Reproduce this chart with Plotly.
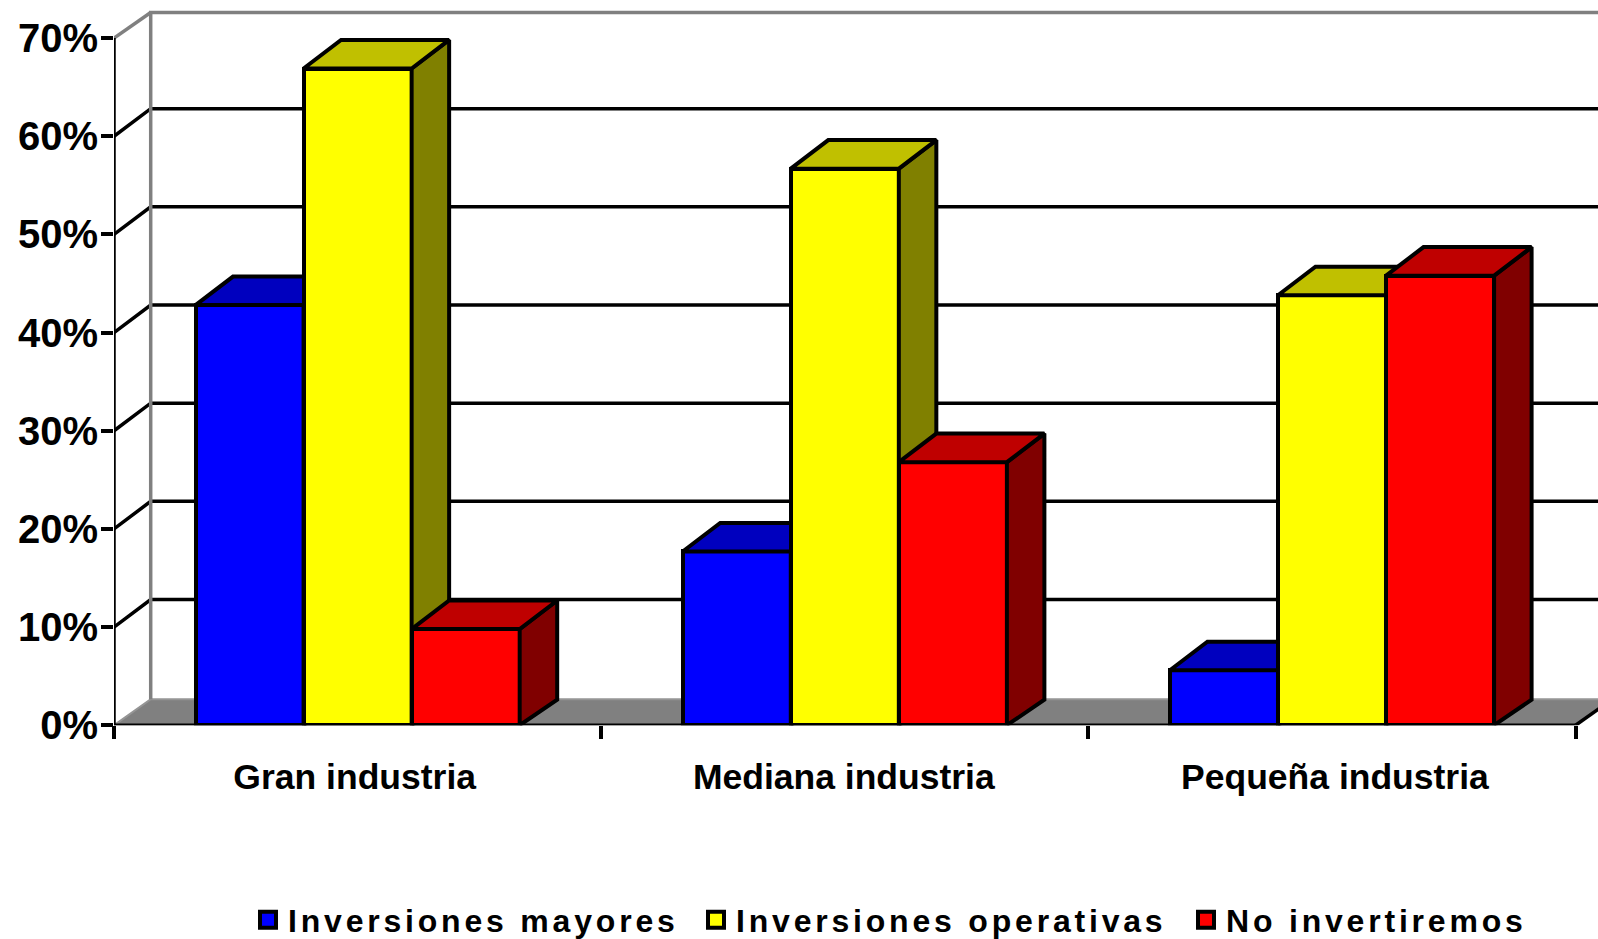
import plotly.graph_objects as go

categories = ["Gran industria", "Mediana industria", "Pequeña industria"]
series_names = ["Inversiones mayores", "Inversiones operativas", "No invertiremos"]
inversiones_mayores = [42.8, 17.7, 5.6]
inversiones_operativas = [66.9, 56.7, 43.8]
no_invertiremos = [9.8, 26.8, 45.8]
y_ticks = [0, 10, 20, 30, 40, 50, 60, 70]

values = [inversiones_mayores, inversiones_operativas, no_invertiremos]
front = ["#0000FF", "#FFFF00", "#FF0000"]
top = ["#0000BF", "#C0C000", "#BF0000"]
side = ["#000080", "#808000", "#800000"]

W, H = 1598, 939
L, AXIS_Y = 114, 724
PX_X, PX_Y = 487.2, 9.8
RESERVED_BOTTOM = 70   # room plotly keeps below the plot for the container-placed legends
XMAX = (W - L) / PX_X
YMAX = AXIS_Y / PX_Y
BAR_W = 0.2218
DX_BAR = 37.5 / PX_X
DY_TOP = 28.5 / PX_Y
DY_BASE = 25.5 / PX_Y
DX_WALL = 36.7 / PX_X
DY_FLOOR = 26 / PX_Y
DY_GRID = 27.5 / PX_Y
DY_ROOF = 25.5 / PX_Y
BLACK = "#000000"
GRAY = "#808080"
LW = 3.5
LW_BAR = 4

fig = go.Figure()

def add_line(xs, ys, color=BLACK, width=LW, **kw):
    fig.add_trace(go.Scatter(x=xs, y=ys, mode="lines", showlegend=False, hoverinfo="skip",
                             line=dict(color=color, width=width), cliponaxis=kw.pop("clip", True), **kw))

# floor
add_line([0, DX_WALL, 3 + DX_WALL, 3, 0], [0, DY_FLOOR, DY_FLOOR, 0, 0], color="#959595", width=2,
         fill="toself", fillcolor=GRAY)
# right edge of floor, then back-wall grid and its diagonals
add_line([3, 3 + DX_WALL], [0, DY_FLOOR], width=LW, clip=False)
grid_x, grid_y = [], []
for v in y_ticks[1:-1]:
    grid_x += [0, DX_WALL, XMAX, None]
    grid_y += [v, v + DY_GRID, v + DY_GRID, None]
add_line(grid_x, grid_y)
# gray walls
add_line([DX_WALL, DX_WALL, XMAX], [DY_FLOOR, y_ticks[-1] + DY_ROOF, y_ticks[-1] + DY_ROOF], color=GRAY)
add_line([0, DX_WALL], [y_ticks[-1], y_ticks[-1] + DY_ROOF], color=GRAY)
# axis lines
add_line([0, 0], [0, y_ticks[-1]], clip=False)
add_line([0, 3], [0, 0], clip=False)

# one overlaid subplot per series so that bars stack in the right depth order
for s in range(3):
    xa = f"x{s + 2}"
    ya = f"y{s + 2}"
    centers = [i + 0.5 + (s - 1) * BAR_W for i in range(3)]
    fig.add_trace(go.Bar(x=centers, y=values[s], width=BAR_W, xaxis=xa, yaxis=ya, name=series_names[s],
                         marker=dict(color=front[s], line=dict(color=BLACK, width=LW_BAR)),
                         showlegend=False, cliponaxis=False))
    for c, v in zip(centers, values[s]):
        x0, x1 = c - BAR_W / 2, c + BAR_W / 2
        fig.add_trace(go.Scatter(x=[x1, x1 + DX_BAR, x1 + DX_BAR, x1, x1], y=[0, DY_BASE, v + DY_TOP, v, 0],
                                 mode="lines", fill="toself", fillcolor=side[s], line=dict(color=BLACK, width=LW_BAR),
                                 showlegend=False, hoverinfo="skip", xaxis=xa, yaxis=ya, cliponaxis=False))
        fig.add_trace(go.Scatter(x=[x0, x0 + DX_BAR, x1 + DX_BAR, x1, x0], y=[v, v + DY_TOP, v + DY_TOP, v, v],
                                 mode="lines", fill="toself", fillcolor=top[s], line=dict(color=BLACK, width=LW_BAR),
                                 showlegend=False, hoverinfo="skip", xaxis=xa, yaxis=ya, cliponaxis=False))

# legend entries, one legend per entry
legend_ids = ["legend", "legend2", "legend3"]
for s in range(3):
    fig.add_trace(go.Scatter(x=[None], y=[None], mode="markers", name=series_names[s], legend=legend_ids[s],
                             marker=dict(symbol="square", size=16, color=front[s], line=dict(color=BLACK, width=4))))

font_family = "Liberation Sans, Arial, sans-serif"
DOM_X = [L / W, 1]
DOM_Y = [1 - AXIS_Y / (H - RESERVED_BOTTOM), 1]
xaxis = dict(domain=DOM_X, range=[0, XMAX], tickmode="array", tickvals=[0.494, 1.498, 2.506], ticktext=categories,
             ticks="", showgrid=False, zeroline=False, showline=False, ticklabelstandoff=27,
             tickfont=dict(family=font_family, size=35.5, color=BLACK, weight="bold"),
             minor=dict(tickmode="array", tickvals=[0, 1, 2, 3], ticks="outside", ticklen=13, tickwidth=LW,
                        tickcolor=BLACK, showgrid=False))
yaxis = dict(domain=DOM_Y, range=[0, YMAX], tickmode="array", tickvals=y_ticks, ticktext=[f"{v}%" for v in y_ticks],
             ticks="outside", ticklen=12, tickwidth=LW, tickcolor=BLACK, showgrid=False, zeroline=False,
             showline=False, ticklabelstandoff=-5,
             tickfont=dict(family=font_family, size=40, color=BLACK, weight="bold"))
overlay = dict(visible=False, showgrid=False, zeroline=False)
def legend_at(px, entry):
    return dict(orientation="h", x=px / W, xanchor="left", y=1 - 920 / H, yanchor="middle",
                xref="container", yref="container",
                entrywidth=entry, entrywidthmode="pixels",
                font=dict(family=font_family, size=32, color=BLACK, weight="bold"),
                bgcolor="rgba(0,0,0,0)", borderwidth=0, itemclick=False, itemdoubleclick=False)
layout_axes = {"xaxis": xaxis, "yaxis": yaxis}
for n in (2, 3, 4):
    layout_axes[f"xaxis{n}"] = dict(overlaying="x", matches="x", domain=DOM_X, **overlay)
    layout_axes[f"yaxis{n}"] = dict(overlaying="y", matches="y", domain=DOM_Y, **overlay)
fig.update_layout(
    width=W, height=H, autosize=False, margin=dict(l=0, r=0, t=0, b=0, pad=0),
    paper_bgcolor="white", plot_bgcolor="white", bargap=0, hovermode=False,
    legend=legend_at(248, 400), legend2=legend_at(696, 440), legend3=legend_at(1186, 330),
    **layout_axes,
)

post = """
document.documentElement.style.overflow = 'hidden';
document.body.style.margin = '0';
document.body.style.overflow = 'hidden';
var st = document.createElement('style');
st.textContent = '.legendtext,.legend2text,.legend3text{letter-spacing:3.8px}';
document.head.appendChild(st);
"""
fig.write_html("out.html", post_script=post, config={"displayModeBar": False})
